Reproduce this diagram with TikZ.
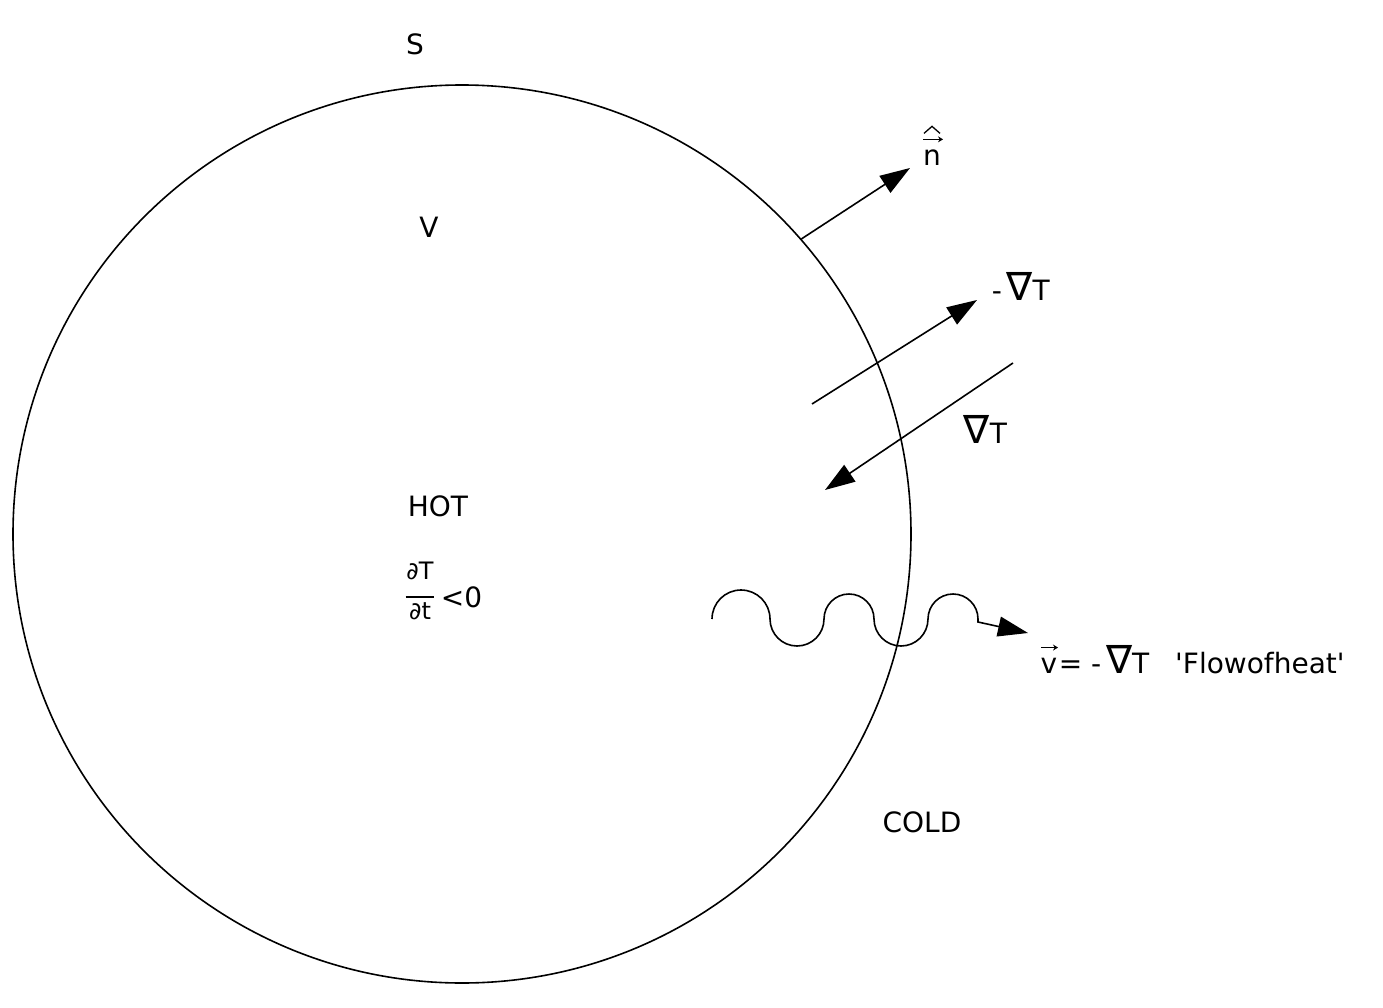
\documentclass[tikz,border=0pt]{standalone}
\usepackage{fontspec}
\setmainfont{DejaVu Sans}
\usetikzlibrary{arrows.meta}
\newcommand{\bignabla}{{\fontsize{39}{40}\selectfont ∇}}
\begin{document}
\begin{tikzpicture}[x=1pt,y=-1pt,line width=1.6pt,
  lbl/.style={font=\fontsize{28}{32}\selectfont, inner sep=0pt},
  sml/.style={font=\fontsize{24}{28}\selectfont, inner sep=0pt},
  bigarr/.style={-{Triangle[length=30pt,width=20pt]}},
  tinyarr/.style={line width=1.2pt,-{Stealth[length=5pt,width=6pt]}}]
\useasboundingbox (0,0) rectangle (1383,1008);
% the region V with surface S
\node[circle,draw,minimum size=898pt,inner sep=0pt] (circ) at (462,534) {};
% labels
\node[lbl] (S) at (415,44) {S};
\node[lbl] (V) at (429,227) {V};
\node[lbl] (hot) at (438,506) {HOT};
\node[lbl] (cold) at (922,822) {COLD};
% fraction
\node[sml] (num) at (420,571) {∂T};
\node[sml] (den) at (420,611) {∂t};
\draw[line width=1.4pt] (num.south west |- 0,597) coordinate (fl) -- (num.south east |- 0,597) coordinate (fr);
\node[lbl,anchor=west] (lt) at (440,597) {<0};
% normal vector
\node[lbl] (nn) at (932,158) {n};
\draw[tinyarr] ([shift={(-9,-10)}]nn.north) -- ([shift={(11,-10)}]nn.north);
\draw[line width=1.3pt] ([shift={(-8,-16)}]nn.north) -- ([shift={(0,-23)}]nn.north) -- ([shift={(8,-16)}]nn.north);
\coordinate (ntip) at (910,168);
\draw[bigarr] (circ.41) -- (ntip);
% gradient arrows
\coordinate (g1s) at (812,404);
\coordinate (g1e) at (977,300);
\draw[bigarr] (g1s) -- (g1e);
\node[lbl,anchor=base west] (mgrad) at (991,300) {-\,\bignabla T};
\coordinate (g2s) at (1013,363);
\coordinate (g2e) at (825,490);
\draw[bigarr] (g2s) -- (g2e);
\node[lbl,anchor=base west] (grad) at (963,443) {\bignabla T};
% flow of heat
\coordinate (w0) at (712,619);
\coordinate (wend) at (1028,633);
\draw[bigarr] (w0) arc[start angle=180,end angle=360,radius=29]
  arc[start angle=180,end angle=0,radius=27]
  arc[start angle=180,end angle=360,radius=25]
  arc[start angle=180,end angle=0,radius=27]
  arc[start angle=180,end angle=360,radius=25]
  -- ++(0,3) -- (wend);
\node[lbl] (vv) at (1049,666) {v};
\draw[tinyarr] ([shift={(-8,-10)}]vv.north) -- ([shift={(9,-10)}]vv.north);
\node[lbl,anchor=base west] (veq) at (vv.base east) {= -\,\bignabla T\hspace{26pt}\textquotesingle Flowofheat\textquotesingle};
\end{tikzpicture}
\end{document}
